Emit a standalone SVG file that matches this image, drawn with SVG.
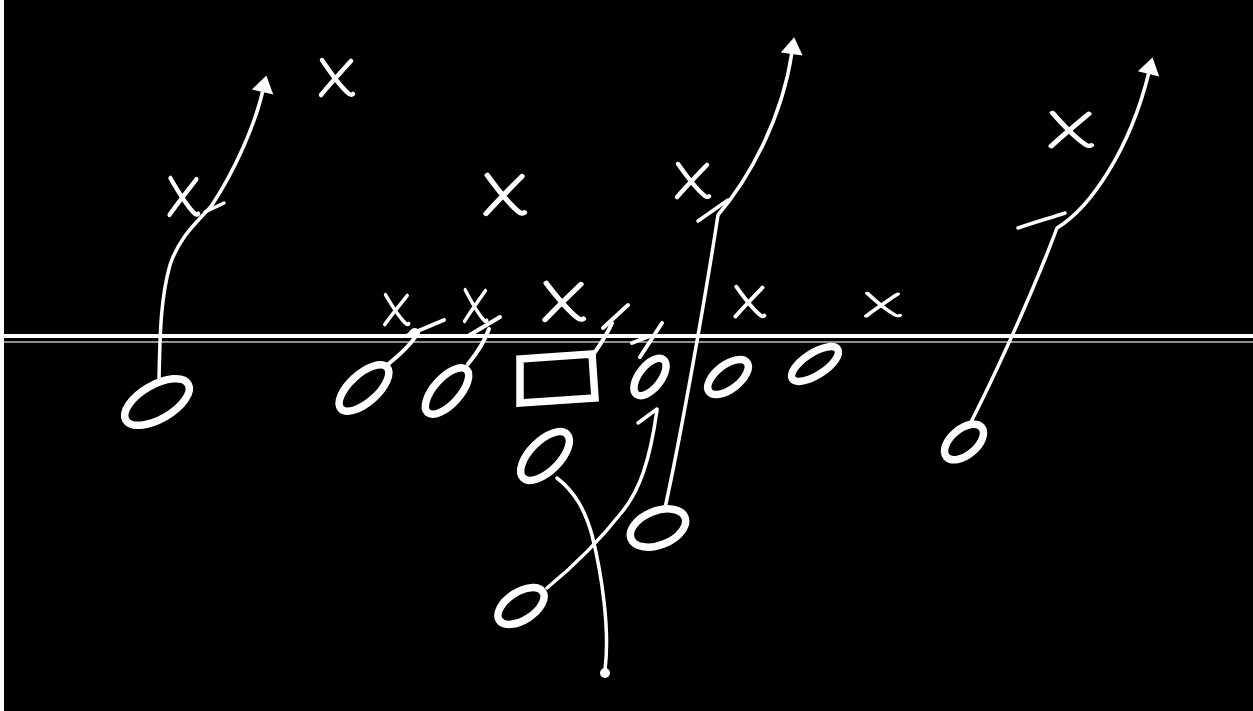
<svg xmlns="http://www.w3.org/2000/svg" xmlns:xlink="http://www.w3.org/1999/xlink" width="1253" height="711" viewBox="0 0 1253 711">
<style>
.o{fill:none;stroke:#fff;stroke-width:7.5}
.x{fill:none;stroke:#fff;stroke-width:4.5;stroke-linecap:round}
.r{fill:none;stroke:#fff;stroke-width:3.5;stroke-linecap:round;stroke-linejoin:round}
.blk{fill:none;stroke:#fff;stroke-width:4;stroke-linecap:round;stroke-linejoin:round}
</style>
<defs>
<marker id="ah" markerUnits="userSpaceOnUse" markerWidth="40" markerHeight="40" refX="2" refY="0" viewBox="-5 -20 40 40" orient="auto" overflow="visible">
<path d="M0,-11 L17,0 L0,11 z" fill="#fff"/>
</marker>
<path id="xm" d="M-14,-18 C-6,-6 4,8 12,15 C14,17 16,17 17,16 M15,-17 C5,-6 -6,6 -15,17"/>
</defs>
<rect x="0" y="0" width="1253" height="711" fill="#000"/>
<rect x="0" y="0" width="4" height="711" fill="#fff"/>

<g id="line-of-scrimmage">
<line x1="4" y1="336" x2="1253" y2="336" stroke="#fff" stroke-width="4"/>
<line x1="4" y1="342" x2="1253" y2="342" stroke="#bdbdbd" stroke-width="1.5"/>
</g>

<g id="connectors">
<path class="r" d="M159,379 C160,340 160,300 170,265 C180,235 198,222 212,205 C235,170 255,125 263,90" marker-end="url(#ah)"/>
<path class="r" d="M205,212 L224,203"/>
<path class="r" d="M665,508 C680,440 705,300 718,215 C748,180 782,120 792,52" marker-end="url(#ah)"/>
<path class="r" d="M698,221 L728,200"/>
<path class="r" d="M970,424 C990,385 1030,300 1057,228 C1090,208 1130,150 1149,72" marker-end="url(#ah)"/>
<path class="r" d="M1018,228 C1035,222 1050,218 1065,213"/>
<path class="r" d="M557,478 C575,492 585,510 592,535 C602,575 610,630 605,670"/>
<circle cx="605" cy="673" r="5" fill="#fff"/>
<path class="r" d="M547,588 C575,565 600,540 622,512 C640,490 650,460 657,410"/>
<path class="r" d="M638,423 L657,409"/>
<path class="blk" d="M386,366 C398,356 410,346 418,333 C416,328 412,330 410,334"/>
<path class="blk" d="M406,336 L444,320"/>
<path class="blk" d="M468,364 C478,352 485,340 489,329"/>
<path class="blk" d="M468,336 L500,317"/>
<path class="blk" d="M593,355 C600,345 607,335 612,323"/>
<path class="blk" d="M603,328 L628,305"/>
<path class="blk" d="M640,357 L662,323"/>
<path class="blk" d="M632,343 L650,336"/>
</g>

<g id="offense">
<g id="o-wr-left"><ellipse class="o" cx="157" cy="402" rx="36" ry="17" transform="rotate(-30 157 402)"/></g>
<g id="o-lt"><ellipse class="o" cx="364" cy="388" rx="31" ry="14" transform="rotate(-42 364 388)"/></g>
<g id="o-lg"><ellipse class="o" cx="447" cy="391" rx="29" ry="13" transform="rotate(-48 447 391)"/></g>
<g id="o-c"><path class="o" d="M520,359 L592,354 L595,398 L520,403 Z"/></g>
<g id="o-rg"><ellipse class="o" cx="650" cy="377" rx="22" ry="11" transform="rotate(-52 650 377)"/></g>
<g id="o-rt"><ellipse class="o" cx="728" cy="377" rx="24" ry="12" transform="rotate(-38 728 377)"/></g>
<g id="o-te"><ellipse class="o" cx="815" cy="364" rx="27" ry="11" transform="rotate(-33 815 364)"/></g>
<g id="o-wr-right"><ellipse class="o" cx="964" cy="442" rx="23" ry="13" transform="rotate(-40 964 442)"/></g>
<g id="o-qb"><ellipse class="o" cx="545" cy="456" rx="31" ry="15" transform="rotate(-45 545 456)"/></g>
<g id="o-rb"><ellipse class="o" cx="521" cy="606" rx="26" ry="14" transform="rotate(-33 521 606)"/></g>
<g id="o-fb"><ellipse class="o" cx="658" cy="528" rx="29" ry="17" transform="rotate(-22 658 528)"/></g>
</g>

<g id="defense">
<g id="x-1"><use href="#xm" class="x" transform="translate(336,78)"/></g>
<g id="x-2"><use href="#xm" class="x" transform="translate(183,197) scale(0.9,1.05)"/></g>
<g id="x-3"><use href="#xm" class="x" transform="translate(504,195) scale(1.2,1.1)"/></g>
<g id="x-4"><use href="#xm" class="x" transform="translate(692,181) scale(1,0.95)"/></g>
<g id="x-5"><use href="#xm" class="x" transform="translate(1070,130) scale(1.25,0.95)"/></g>
<g id="x-6"><use href="#xm" class="x" transform="translate(396,310) scale(0.75,0.85)"/></g>
<g id="x-7"><use href="#xm" class="x" transform="translate(475,306) scale(0.7,0.9)"/></g>
<g id="x-8"><use href="#xm" class="x" transform="translate(563,302) scale(1.2,1.05)"/></g>
<g id="x-9"><use href="#xm" class="x" transform="translate(749,302) scale(0.9,0.85)"/></g>
<g id="x-10"><use href="#xm" class="x" transform="translate(882,305) scale(1.05,0.65)"/></g>
</g>
</svg>
